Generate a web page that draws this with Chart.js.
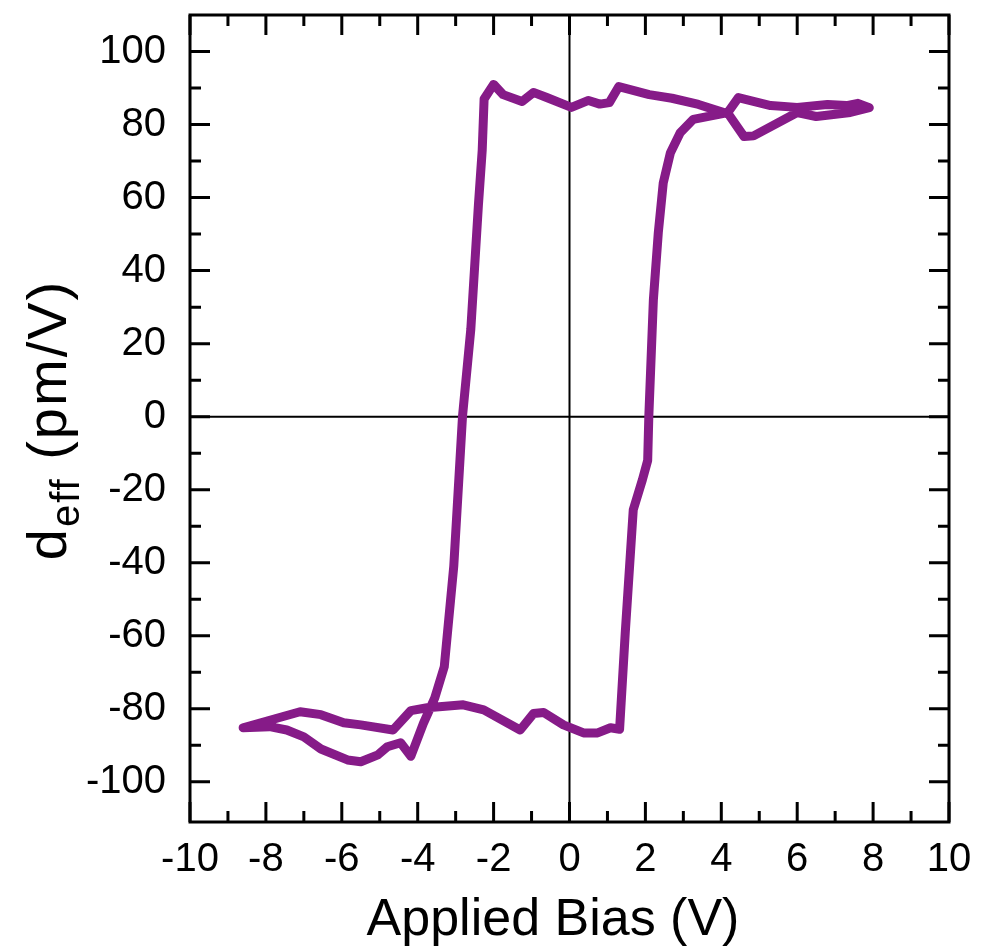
<!DOCTYPE html>
<html>
<head>
<meta charset="utf-8">
<title>d_eff vs Applied Bias</title>
<script src="https://cdn.jsdelivr.net/npm/chart.js@4/dist/chart.umd.min.js"></script>
<style>
  html, body { margin: 0; padding: 0; background: #fff; }
  #wrap { width: 982px; height: 952px; }
</style>
</head>
<body>
<div id="wrap"><canvas id="loopChart" width="982" height="952"></canvas></div>
<script>
// reverse sweep: +8 V down to -8.6 V (upper branch, then switching down)
const reverseV = [7.9, 7.6, 7.3, 6.8, 6.0, 5.3, 4.45, 4.15, 3.4, 2.7, 2.1, 1.3, 1.05, 0.8, 0.5, 0.05,
  -0.6, -0.95, -1.25, -1.75, -2.0, -2.25, -2.3, -2.4, -2.6, -2.82, -3.05, -3.3, -3.55, -3.85, -4.18,
  -4.45, -4.8, -5.05, -5.5, -5.85, -6.55, -7.0, -7.45, -7.9, -8.6];
const reverseD = [84.6, 85.8, 85.2, 85.5, 84.7, 85.2, 87.4, 83.0, 85.5, 87.2, 88.2, 90.4, 86.0, 85.6, 86.6, 84.7,
  87.4, 88.8, 86.3, 88.2, 91.0, 87.0, 73.0, 58.0, 24.0, 0.0, -41.0, -68.5, -77.0, -84.0, -93.0,
  -89.3, -90.4, -92.6, -94.5, -94.0, -91.0, -87.7, -85.8, -84.9, -85.2];

// forward sweep: -8.6 V back up to +8 V (lower branch, then switching up)
const forwardV = [-7.1, -6.55, -5.95, -5.5, -4.65, -4.18, -3.75, -2.8, -2.26, -1.3, -0.95, -0.68, -0.16,
  0.37, 0.74, 1.08, 1.32, 1.47, 1.68, 1.92, 2.06, 2.09, 2.21, 2.34, 2.47, 2.66, 2.92, 3.26, 3.9, 4.16,
  4.6, 4.85, 6.0, 6.5, 7.4, 7.9];
const forwardD = [-80.8, -81.6, -83.8, -84.4, -85.8, -80.5, -79.7, -78.9, -80.3, -85.8, -81.3, -81.0, -84.4,
  -86.6, -86.6, -85.2, -85.6, -59.0, -25.5, -17.3, -12.0, 0.0, 32.0, 50.4, 64.0, 72.3, 77.8, 81.4, 82.7, 83.3,
  76.7, 76.9, 83.3, 82.2, 83.3, 84.6];

// axis ticks
const xMajorTicks = [-10, -8, -6, -4, -2, 0, 2, 4, 6, 8, 10];
const xMinorTicks = [-9, -7, -5, -3, -1, 1, 3, 5, 7, 9];
const yMajorTicks = [-100, -80, -60, -40, -20, 0, 20, 40, 60, 80, 100];
const yMinorTicks = [-90, -70, -50, -30, -10, 10, 30, 50, 70, 90];

const xTitle = 'Applied Bias (V)';
const lineColor = '#861b88';
const fontFamily = '"Liberation Sans", Arial, Helvetica, sans-serif';

const loopPoints = reverseV.map((v, i) => ({ x: v, y: reverseD[i] }))
  .concat(forwardV.map((v, i) => ({ x: v, y: forwardD[i] })));

// frame, zero lines, inward ticks on all four sides, axis titles (y one has a subscript)
const framePlugin = {
  id: 'frame',
  beforeDatasetsDraw(chart) {
    const { ctx, chartArea: a, scales: { x, y } } = chart;
    ctx.save();
    ctx.strokeStyle = '#000';
    ctx.lineWidth = 2;
    const x0 = x.getPixelForValue(0), y0 = y.getPixelForValue(0);
    ctx.beginPath();
    ctx.moveTo(x0, a.top); ctx.lineTo(x0, a.bottom);
    ctx.moveTo(a.left, y0); ctx.lineTo(a.right, y0);
    ctx.stroke();
    ctx.restore();
  },
  afterDraw(chart) {
    const { ctx, chartArea: a, scales: { x, y } } = chart;
    ctx.save();
    ctx.strokeStyle = '#000';
    ctx.lineWidth = 3;
    ctx.lineCap = 'butt';
    const tickX = (vals, len) => {
      vals.forEach(v => {
        const px = x.getPixelForValue(v);
        ctx.beginPath();
        ctx.moveTo(px, a.bottom); ctx.lineTo(px, a.bottom - len);
        ctx.moveTo(px, a.top); ctx.lineTo(px, a.top + len);
        ctx.stroke();
      });
    };
    const tickY = (vals, len) => {
      vals.forEach(v => {
        const py = y.getPixelForValue(v);
        ctx.beginPath();
        ctx.moveTo(a.left, py); ctx.lineTo(a.left + len, py);
        ctx.moveTo(a.right, py); ctx.lineTo(a.right - len, py);
        ctx.stroke();
      });
    };
    tickX(xMajorTicks, 20); tickX(xMinorTicks, 11);
    tickY(yMajorTicks, 20); tickY(yMinorTicks, 11);
    ctx.strokeRect(a.left, a.top, a.right - a.left, a.bottom - a.top);

    ctx.fillStyle = '#000';
    ctx.textBaseline = 'alphabetic';

    // x axis title
    ctx.font = '52px ' + fontFamily;
    ctx.textAlign = 'center';
    ctx.fillText(xTitle, 553, 935);

    // y axis title: d_eff (pm/V)
    ctx.textAlign = 'left';
    ctx.translate(66, 420);
    ctx.rotate(-Math.PI / 2);
    if ('letterSpacing' in ctx) ctx.letterSpacing = '2px';
    const big = '56px ' + fontFamily, small = '40px ' + fontFamily;
    ctx.font = big;
    const wD = ctx.measureText('d').width;
    const wRest = ctx.measureText(' (pm/V)').width;
    ctx.font = small;
    const wSub = ctx.measureText('eff').width;
    let cx = -(wD + wSub + wRest) / 2;
    ctx.font = big; ctx.fillText('d', cx, 0); cx += wD;
    ctx.font = small; ctx.fillText('eff', cx, 13); cx += wSub;
    ctx.font = big; ctx.fillText(' (pm/V)', cx, 0);
    ctx.restore();
  }
};

new Chart(document.getElementById('loopChart'), {
  type: 'line',
  data: {
    datasets: [{
      data: loopPoints,
      borderColor: lineColor,
      borderWidth: 9,
      borderJoinStyle: 'round',
      borderCapStyle: 'round',
      pointRadius: 0,
      tension: 0,
      fill: false
    }]
  },
  options: {
    responsive: false,
    animation: false,
    events: [],
    layout: { padding: { top: 15, right: 33, left: 0, bottom: 0 } },
    plugins: { legend: { display: false }, tooltip: { enabled: false } },
    scales: {
      x: {
        type: 'linear',
        min: -10, max: 10,
        afterBuildTicks: s => { s.ticks = xMajorTicks.map(v => ({ value: v })); },
        afterFit: s => { s.height = 130; s.paddingLeft = 0; s.paddingRight = 0; },
        grid: { display: false, drawTicks: false },
        border: { display: false },
        ticks: { color: '#000', padding: 14, font: { family: fontFamily, size: 40 } }
      },
      y: {
        type: 'linear',
        min: -111, max: 110,
        afterBuildTicks: s => { s.ticks = yMajorTicks.map(v => ({ value: v })); },
        afterFit: s => { s.width = 190; s.paddingTop = 0; s.paddingBottom = 0; },
        grid: { display: false, drawTicks: false },
        border: { display: false },
        ticks: { color: '#000', padding: 24, font: { family: fontFamily, size: 40 } }
      }
    }
  },
  plugins: [framePlugin]
});
</script>
</body>
</html>
